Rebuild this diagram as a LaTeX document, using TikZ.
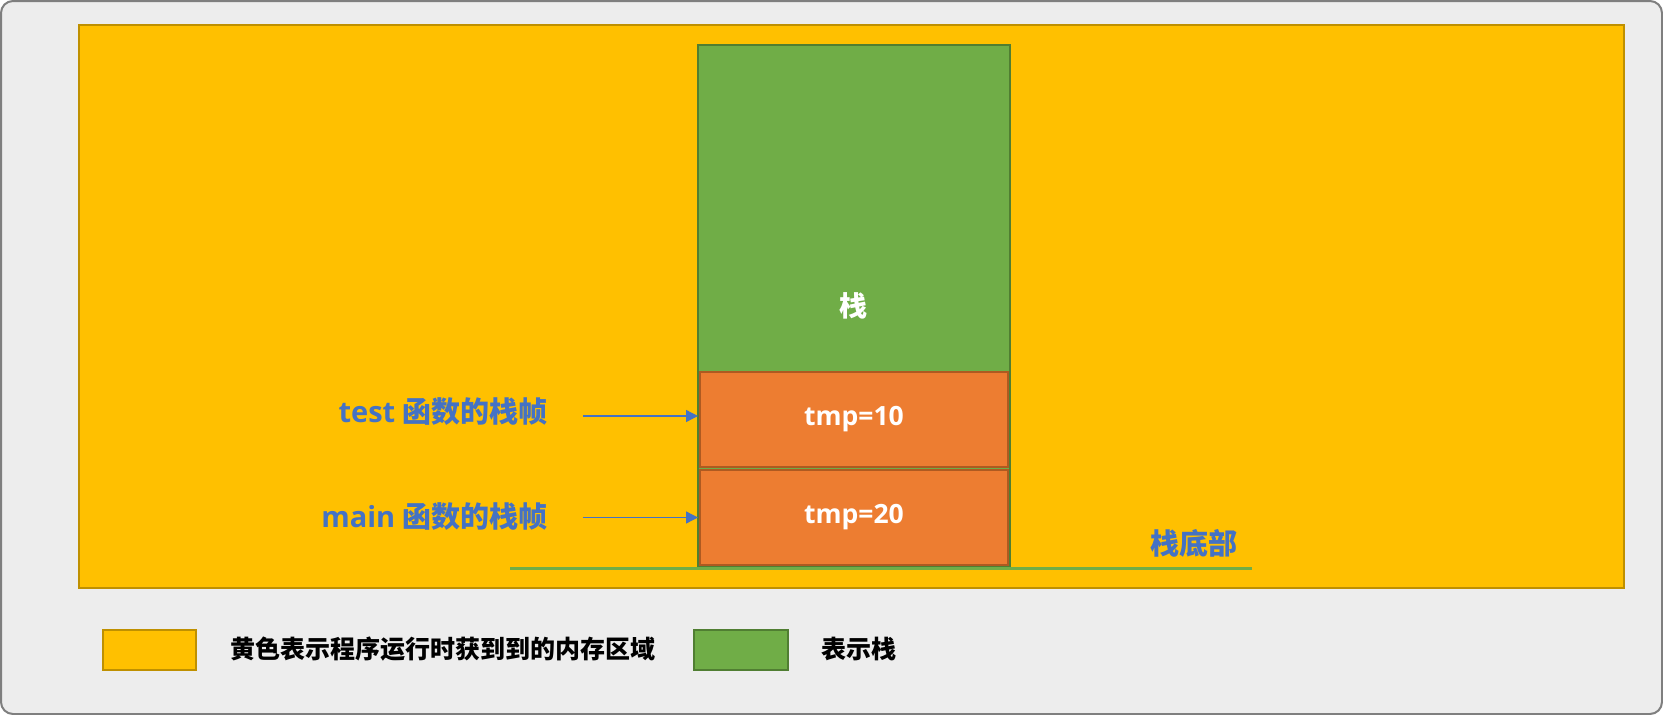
\documentclass[tikz,border=0pt]{standalone}
\usepackage{fontspec}
\setmainfont{Open Sans}
\newfontfamily\cjk{Noto Sans CJK SC}
\usetikzlibrary{arrows.meta}
\definecolor{bgc}{HTML}{EDEDED}
\definecolor{bgborder}{HTML}{7F7F7F}
\definecolor{memc}{HTML}{FFC000}
\definecolor{memborder}{HTML}{BF9000}
\definecolor{stackc}{HTML}{70AD47}
\definecolor{stackborder}{HTML}{507E32}
\definecolor{framec}{HTML}{ED7D31}
\definecolor{frameborder}{HTML}{AE5A21}
\definecolor{bluec}{HTML}{4472C4}
\begin{document}
\begin{tikzpicture}[x=1pt,y=-1pt,
  memarea/.style={fill=memc,draw=memborder,line width=2pt},
  stackarea/.style={fill=stackc,draw=stackborder,line width=2pt},
  framebox/.style={fill=framec,draw=frameborder,line width=2pt},
  whitetxt/.style={text=white,font=\fontsize{26.5}{31}\selectfont\bfseries},
  bluetxt/.style={text=bluec,font=\fontsize{29}{34}\selectfont\bfseries,inner sep=0pt},
  legtxt/.style={text=black,font=\fontsize{25}{30}\selectfont\bfseries\cjk,inner sep=0pt},
  arr/.style={draw=bluec,line width=1.3pt,-{Triangle[length=12pt,width=12pt]}}]
\useasboundingbox (0,0) rectangle (1663,715);
% background
\draw[fill=bgc,draw=bgborder,line width=2pt,rounded corners=12pt] (1,1) rectangle (1662,714);
% memory area
\draw[memarea] (79,25) rectangle (1623.5,587.5);
% stack
\draw[stackarea] (697.5,44.5) rectangle (1009.5,567);
\node[text=white,font=\fontsize{28}{33}\selectfont\bfseries\cjk] (stk) at (853,306) {栈};
\draw[framebox] (699.5,372) rectangle (1008,466.5);
\node[whitetxt] (t10) at (854,419.5) {tmp=10};
\draw[framebox] (699.5,470) rectangle (1008,564.5);
\node[whitetxt] (t20) at (854,517) {tmp=20};
\coordinate (boxleft) at (698,0);
% baseline
\coordinate (b1) at (510,568);
\coordinate (b2) at (1252,568);
\draw[stackc,line width=3pt] (b1) -- (b2);
\node[bluetxt] (bot) at (1194,543) {\cjk 栈底部};
% labels
\node[bluetxt,anchor=east] (tl) at (548,412) {test {\cjk 函数的栈帧}};
\node[bluetxt,anchor=east] (ml) at (548,516.5) {main {\cjk 函数的栈帧}};
\coordinate (a1) at (583,416);
\coordinate (a2) at (583,517.5);
\draw[arr] (a1) -- (a1 -| boxleft);
\draw[arr] (a2) -- (a2 -| boxleft);
% legend
\draw[memarea] (103,629.5) rectangle (196,670);
\node[legtxt,anchor=west] (leg1) at (230.5,649.5) {黄色表示程序运行时获到到的内存区域};
\draw[stackarea] (694,629.5) rectangle (788,670);
\node[legtxt,anchor=west] (leg2) at (821,649.5) {表示栈};
\end{tikzpicture}
\end{document}
